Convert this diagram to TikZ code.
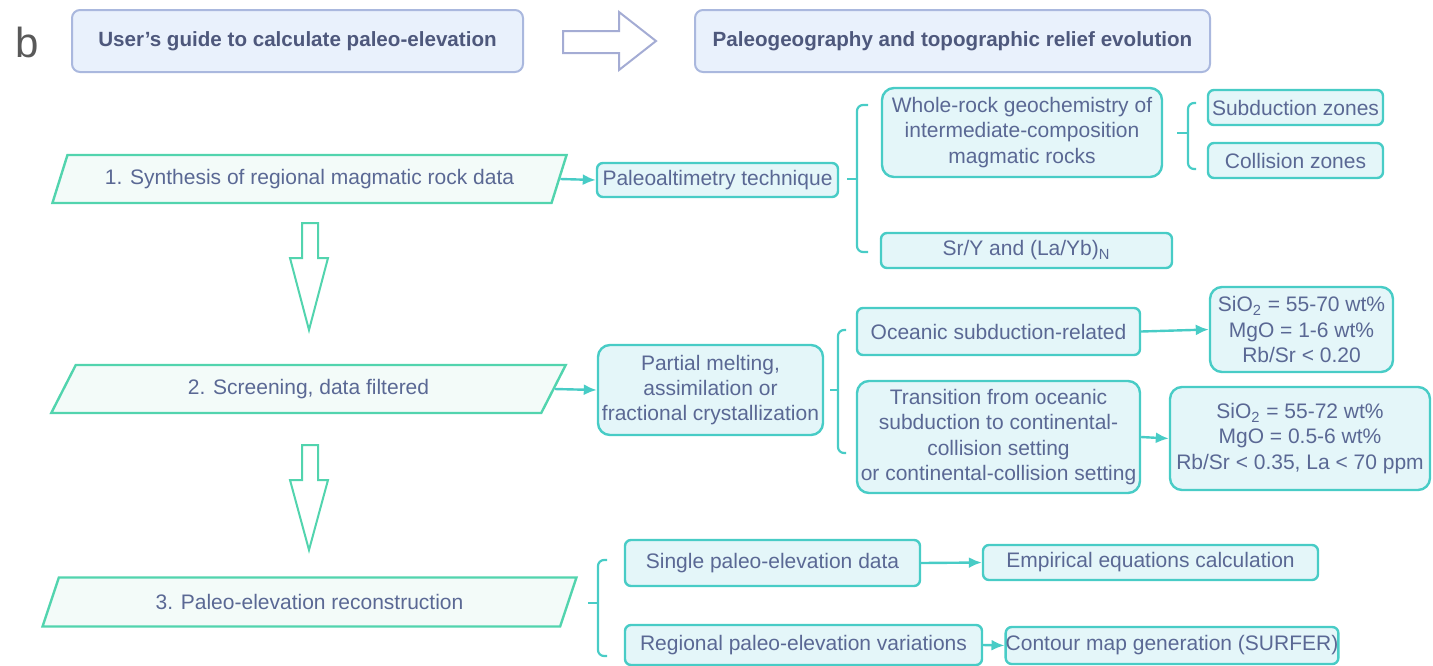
\documentclass[tikz,border=0pt]{standalone}
\usepackage{fontspec}
\setmainfont{Liberation Sans}
\usetikzlibrary{shapes.geometric,arrows.meta}

\definecolor{tealline}{RGB}{72,204,198}
\definecolor{tealfill}{RGB}{228,246,249}
\definecolor{greenline}{RGB}{82,212,174}
\definecolor{greenfill}{RGB}{243,251,249}
\definecolor{headline}{RGB}{170,184,222}
\definecolor{headfill}{RGB}{233,241,252}
\definecolor{headtext}{RGB}{78,88,124}
\definecolor{boxtext}{RGB}{90,104,148}
\definecolor{arrowline}{RGB}{164,172,212}

\tikzset{
  boxfont/.style={font=\fontsize{10.5}{12.6}\selectfont},
  headbox/.style={draw=headline, line width=1pt, fill=headfill, rounded corners=4pt,
    inner sep=0pt, text=headtext, font=\fontsize{10.3}{12.6}\selectfont\bfseries},
  stepbox/.style={trapezium, trapezium left angle=57, trapezium right angle=123,
    trapezium stretches=true, draw=greenline, line width=1.2pt, fill=greenfill,
    inner sep=0pt, text=boxtext, boxfont},
  itembox/.style={draw=tealline, line width=1.2pt, fill=tealfill, rounded corners=3pt,
    inner sep=0pt, align=center, text=boxtext, boxfont},
  bigbox/.style={itembox, rounded corners=6pt},
  link/.style={draw=tealline, line width=1.2pt, -{Latex[length=6.5pt,width=5.5pt]}},
  bracket/.style={draw=tealline, line width=1.1pt, rounded corners=3pt},
  blockarrow/.style={draw=greenline, line width=1pt, fill=white},
}

\begin{document}
\begin{tikzpicture}[x=0.5pt,y=0.5pt,yscale=-1,xscale=1]
        \useasboundingbox (0,0) rectangle (1433,665);
        % header
        \node [text=black!65, font=\fontsize{21}{21}\selectfont] (panel) at (27,42) {b};
        \node [headbox, minimum width=225.5pt, minimum height=31pt] (guide) at (297.5,41) {User's guide to calculate paleo-elevation};
        \node [headbox, minimum width=257.5pt, minimum height=31pt] (paleogeo) at (952.5,41) {Paleogeography and topographic relief evolution};
        \draw [draw=arrowline, line width=1pt, fill=white] (563,31) -- (619,31) -- (619,12) -- (656,41) -- (619,70) -- (619,53) -- (563,53) -- cycle ;
        % steps
        \node [stepbox, minimum width=257.5pt, minimum height=24pt] (synth) at (309.5,179) {1. Synthesis of regional magmatic rock data};
        \node [stepbox, minimum width=257.5pt, minimum height=24pt] (screen) at (308.5,389) {2. Screening, data filtered};
        \node [stepbox, minimum width=267.5pt, minimum height=24.5pt] (recon) at (309.5,602) {3. Paleo-elevation reconstruction};
        \draw [blockarrow] (302,223) -- (318,223) -- (318,258) -- (328,258) -- (309,330) -- (290,258) -- (302,258) -- cycle ;
        \draw [blockarrow] (302,445) -- (318,445) -- (318,480) -- (328,480) -- (309,550) -- (290,480) -- (302,480) -- cycle ;
        % step 1
        \node [itembox, minimum width=120.5pt, minimum height=17pt] (altim) at (717.5,180) {Paleoaltimetry technique};
        \node [bigbox, minimum width=140pt, minimum height=44.5pt] (wholerock) at (1022,132.5) {Whole-rock geochemistry of\\intermediate-composition\\magmatic rocks};
        \node [itembox, minimum width=87.5pt, minimum height=17.5pt] (subzone) at (1295.5,107.5) {Subduction zones};
        \node [itembox, minimum width=87.5pt, minimum height=17.5pt] (colzone) at (1295.5,160.5) {Collision zones};
        \node [itembox, minimum width=145.5pt, minimum height=17.5pt] (sryb) at (1026.5,250.5) {Sr/Y and (La/Yb)\textsubscript{N}};
        \draw [link] (synth.east) -- (altim.west) ;
        \draw [bracket] (868,105) -- (857,105) -- (857,252) -- (868,252) ;
        \draw [bracket] (847,179) -- (857,179) ;
        \draw [bracket] (1196,103) -- (1188,103) -- (1188,169) -- (1196,169) ;
        \draw [bracket] (1177,133) -- (1188,133) ;
        % step 2
        \node [bigbox, minimum width=112.5pt, minimum height=45pt] (melting) at (710.5,390) {Partial melting,\\assimilation or\\fractional crystallization};
        \node [itembox, minimum width=141.5pt, minimum height=23.5pt] (oceanic) at (998.5,331.5) {Oceanic subduction-related};
        \node [bigbox, minimum width=141.5pt, minimum height=56pt] (transit) at (998.5,437) {Transition from oceanic\\subduction to continental-\\collision setting\\or continental-collision setting};
        \node [bigbox, minimum width=91.5pt, minimum height=42.5pt] (chemA) at (1301.5,329.5) {SiO\textsubscript{2} = 55-70 wt\%\\MgO = 1-6 wt\%\\Rb/Sr < 0.20};
        \node [bigbox, minimum width=130pt, minimum height=51.5pt] (chemB) at (1300,438.5) {SiO\textsubscript{2} = 55-72 wt\%\\MgO = 0.5-6 wt\%\\Rb/Sr < 0.35, La < 70 ppm};
        \draw [link] (screen.east) -- (melting.west) ;
        \draw [link] (oceanic.east) -- (chemA.west) ;
        \draw [link] (transit.east) -- (chemB.west) ;
        \draw [bracket] (846,330) -- (838,330) -- (838,453) -- (846,453) ;
        \draw [bracket] (830,390) -- (838,390) ;
        % step 3
        \node [itembox, minimum width=147.5pt, minimum height=23pt] (single) at (772.5,563) {Single paleo-elevation data};
        \node [itembox, minimum width=167.5pt, minimum height=17.5pt] (empir) at (1150.5,562.5) {Empirical equations calculation};
        \node [itembox, minimum width=178.5pt, minimum height=20pt] (regional) at (803.5,645) {Regional paleo-elevation variations};
        \node [itembox, minimum width=165pt, minimum height=18.5pt] (contour) at (1172,645.5) {Contour map generation (SURFER)};
        \draw [link] (single.east) -- (empir.west) ;
        \draw [link] (regional.east) -- (contour.west) ;
        \draw [bracket] (607,560) -- (598,560) -- (598,656) -- (607,656) ;
        \draw [bracket] (588,603) -- (598,603) ;
\end{tikzpicture}
\end{document}
